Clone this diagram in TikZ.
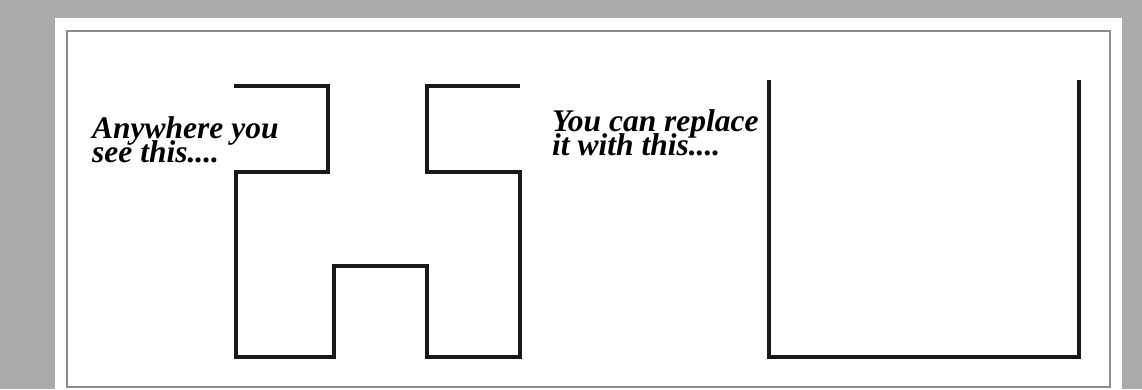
\documentclass[tikz,border=0pt]{standalone}
\usepackage{fontspec}
\setmainfont{Liberation Serif}
\begin{document}
\begin{tikzpicture}[x=1pt,y=-1pt,
  shape line/.style={line width=3.2pt, black!90, line join=miter, line cap=butt},
  frame line/.style={line width=1.5pt, black!45},
  label text/.style={anchor=base west, inner sep=0pt, font=\fontsize{31.5}{23}\selectfont\bfseries\itshape}]
\useasboundingbox (0,0) rectangle (1142,389);
\fill[black!33] (0,0) rectangle (1142,389);
\fill[white] (55,18) rectangle (1122,395);
\draw[frame line] (67,31) rectangle (1110,387);
% left shape
\draw[shape line] (234,86) -- (328,86) -- (328,172) -- (236,172) -- (236,357)
  -- (334,357) -- (334,266) -- (427,266) -- (427,357) -- (520,357) -- (520,172)
  -- (427,172) -- (427,86) -- (520,86);
% right shape
\draw[shape line] (769,80) -- (769,357) -- (1079,357) -- (1079,80);
% texts
\node[label text] (a1) at (92,138) {Anywhere you};
\node[label text] (a2) at (92,162) {see this....};
\node[label text] (b1) at (552,131) {You can replace};
\node[label text] (b2) at (552,155) {it with this....};
\end{tikzpicture}
\end{document}
